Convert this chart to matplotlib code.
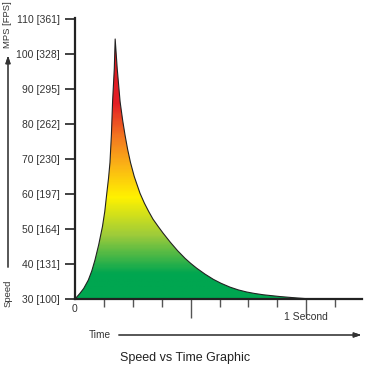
import numpy as np
import matplotlib.pyplot as plt
from matplotlib.colors import LinearSegmentedColormap
from matplotlib.patches import Polygon

# speed (MPS) over time (1/8 second units)
time_pts = [0, 0.17, 0.3, 0.46, 0.58, 0.69, 0.82, 0.95, 1.03, 1.10, 1.16, 1.21,
            1.26, 1.30, 1.36, 1.39,
            1.46, 1.56, 1.65, 1.73, 1.82, 1.92, 2.05, 2.25, 2.4, 2.55, 2.7,
            2.88, 3.05, 3.3, 3.55, 3.81, 4.0, 4.21, 4.5, 4.79, 5.05, 5.36,
            5.65, 5.94, 6.2, 6.52, 7.09, 7.67, 8.0, 9.9]
speed_pts = [30, 31.6, 33, 35.4, 38, 41.1, 45.5, 50.7, 55, 60.2, 64.5, 69,
             77, 86.4, 95.9, 104.3,
             95.9, 86.4, 81, 76.9, 72.8, 69, 65, 60.2, 57.4, 55, 52.8,
             50.7, 48.8, 46.2, 43.8, 41.6, 40.2, 38.8, 37.1, 35.6, 34.5, 33.4,
             32.6, 32.0, 31.6, 31.2, 30.7, 30.3, 30.1, 30]

y_ticks = [30, 40, 50, 60, 70, 80, 90, 100, 110]
y_fps = [100, 131, 164, 197, 230, 262, 295, 328, 361]
x_ticks = [1, 2, 3, 4, 5, 6, 7, 8, 9]
major_x = [4, 8]

fig = plt.figure(figsize=(3.7, 3.7), dpi=100)
ax = fig.add_axes([75 / 370, 71 / 370, 287 / 370, 281 / 370])
x_max = 9.93
y_min, y_max = 30, 110.3
ax.set_xlim(0, x_max)
ax.set_ylim(y_min, y_max)

# vertical gradient fill clipped to the curve
stops = [(30, "#00a650"), (37, "#00a650"), (48, "#9ccb3b"), (59, "#fff200"),
         (68, "#fbb515"), (76, "#f47b20"), (86, "#e41e26"), (110.3, "#d7191c")]
cmap = LinearSegmentedColormap.from_list(
    "speed", [((v - 30) / (110.3 - 30), c) for v, c in stops])
grad = np.linspace(0, 1, 300).reshape(-1, 1)
img = ax.imshow(grad, cmap=cmap, origin="lower", aspect="auto",
                extent=[0, x_max, y_min, y_max], zorder=1)
poly = Polygon(np.column_stack([time_pts, speed_pts]), closed=True,
               facecolor="none", edgecolor="none")
ax.add_patch(poly)
img.set_clip_path(poly)
ax.plot(time_pts, speed_pts, color="#222222", lw=0.8, zorder=3,
        solid_joinstyle="round")

# axes styling
for s in ["top", "right"]:
    ax.spines[s].set_visible(False)
ax.spines["left"].set_linewidth(1.6)
ax.spines["bottom"].set_linewidth(1.6)
ax.spines["left"].set_color("#222222")
ax.spines["bottom"].set_color("#222222")

lab_font = ["Liberation Sans Narrow", "Liberation Sans"]
ax.set_yticks(y_ticks)
ax.set_yticklabels([f"{a} [{b}]" for a, b in zip(y_ticks, y_fps)],
                   fontfamily=lab_font, fontsize=7.5, color="#333333")
ax.tick_params(axis="y", length=7, width=1.3, color="#333333", pad=4)

ax.set_xticks(x_ticks)
ax.set_xticklabels([])
ax.tick_params(axis="x", length=6, width=1.0, color="#555555")
for t in ax.xaxis.get_major_ticks():
    if t.get_loc() in major_x:
        t.tick1line.set_markersize(14)

ax.text(0, 28.5, "0", ha="center", va="top", fontsize=7.5,
        color="#333333", fontfamily=lab_font)
ax.text(8, 26.2, "1 Second", ha="center", va="top", fontsize=7.5,
        color="#333333", fontfamily=lab_font)

# side annotations
fig.text(8 / 370, 1 - 25 / 370, "MPS [FPS]", rotation=90, ha="center",
         va="center", fontsize=6.8, color="#333333", fontfamily=lab_font)
fig.text(8 / 370, 1 - 293 / 370, "Speed", rotation=90, ha="center",
         va="center", fontsize=6.8, color="#333333", fontfamily=lab_font)
fig.add_artist(plt.annotate(
    "", xy=(8 / 370, 1 - 53 / 370), xytext=(8 / 370, 1 - 270 / 370),
    xycoords="figure fraction", textcoords="figure fraction",
    arrowprops=dict(arrowstyle="-|>,head_length=0.45,head_width=0.15",
                    color="#333333", lw=0.8)))

fig.text(100 / 370, 1 - 335 / 370, "Time", ha="center", va="center",
         fontsize=7.3, color="#333333", fontfamily=lab_font)
fig.add_artist(plt.annotate(
    "", xy=(364 / 370, 1 - 335 / 370), xytext=(116 / 370, 1 - 335 / 370),
    xycoords="figure fraction", textcoords="figure fraction",
    arrowprops=dict(arrowstyle="-|>,head_length=0.45,head_width=0.15",
                    color="#333333", lw=0.8)))

fig.text(185 / 370, 1 - 358 / 370, "Speed vs Time Graphic", ha="center",
         va="center", fontsize=9, color="#222222", fontfamily="Liberation Sans")

fig.savefig("out.png", dpi=100)
